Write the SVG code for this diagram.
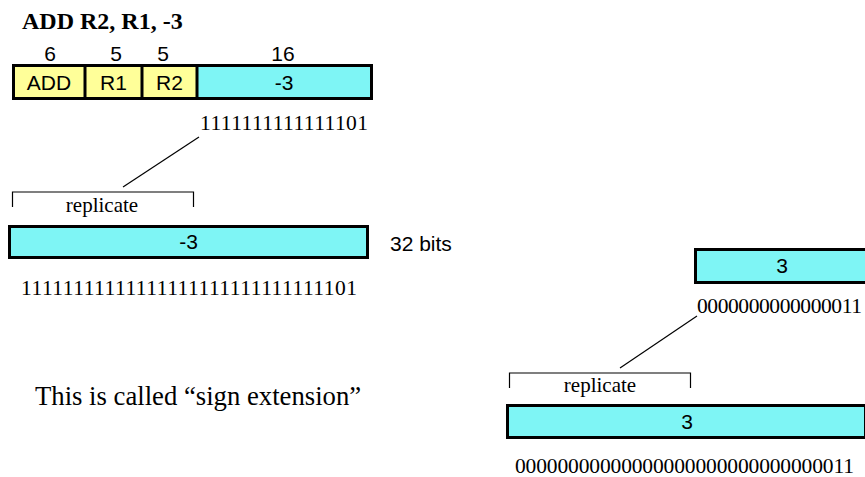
<svg xmlns="http://www.w3.org/2000/svg" width="865" height="477" viewBox="0 0 865 477">
  <style>
    .serif { font-family: "Liberation Serif", "Times New Roman", serif; fill: #000; }
    .sans { font-family: "Liberation Sans", Arial, sans-serif; fill: #000; font-size: 21px; }
    .bits { font-size: 21.5px; }
    .field { stroke: #000; stroke-width: 3; }
    .op { fill: #FFFF99; }
    .imm { fill: #7EF5F5; }
    .thin { stroke: #000; stroke-width: 1.2; fill: none; }
  </style>
  <rect width="865" height="477" fill="#fff"/>

  <!-- instruction title -->
  <text class="serif" x="22" y="29" font-size="24" font-weight="bold">ADD R2, R1, -3</text>

  <!-- field widths -->
  <g id="widths" class="sans" text-anchor="middle">
    <text x="50" y="61">6</text>
    <text x="116" y="61">5</text>
    <text x="163" y="61">5</text>
    <text x="283" y="61">16</text>
  </g>

  <!-- instruction word -->
  <g id="instr">
    <rect class="op" x="13.5" y="65.5" width="183.5" height="33"/>
    <rect class="imm" x="197" y="65.5" width="174.5" height="33"/>
    <rect class="field" x="13.5" y="65.5" width="358" height="33" fill="none"/>
    <line class="field" x1="85" y1="65.5" x2="85" y2="98.5"/>
    <line class="field" x1="142" y1="65.5" x2="142" y2="98.5"/>
    <line class="field" x1="197" y1="65.5" x2="197" y2="98.5"/>
    <g class="sans" text-anchor="middle">
      <text x="49" y="90">ADD</text>
      <text x="113.5" y="90">R1</text>
      <text x="169.5" y="90">R2</text>
      <text x="284" y="90">-3</text>
    </g>
  </g>

  <text id="imm16-neg" class="serif bits" x="200" y="130" textLength="168" lengthAdjust="spacing">1111111111111101</text>

  <!-- sign-extended negative immediate -->
  <g id="ext-neg">
    <rect class="field imm" x="9.5" y="226.5" width="358" height="31"/>
    <text class="sans" x="188.5" y="249" text-anchor="middle">-3</text>
  </g>
  <text id="bits-label" class="sans" x="390" y="251">32 bits</text>
  <text id="imm32-neg" class="serif bits" x="21" y="295" textLength="336" lengthAdjust="spacing">11111111111111111111111111111101</text>

  <!-- positive immediate -->
  <g id="imm-pos">
    <rect class="field imm" x="695.5" y="249.5" width="176" height="33"/>
    <text class="sans" x="782" y="273" text-anchor="middle">3</text>
  </g>
  <text id="imm16-pos" class="serif bits" x="697" y="313" textLength="165" lengthAdjust="spacing">0000000000000011</text>

  <g id="ext-pos">
    <rect class="field imm" x="507.5" y="405.5" width="358" height="32"/>
    <text class="sans" x="687" y="429" text-anchor="middle">3</text>
  </g>
  <text id="imm32-pos" class="serif bits" x="515" y="473" textLength="339" lengthAdjust="spacing">00000000000000000000000000000011</text>

  <text id="note" class="serif" x="35" y="405" font-size="26.7">This is called “sign extension”</text>

  <!-- replication brackets -->
  <g id="brackets">
    <path class="thin" d="M12.5,207 V192 H193.5 V207"/>
    <text class="serif" x="102" y="212" font-size="21" text-anchor="middle">replicate</text>
    <path class="thin" d="M509.5,388 V373 H690.5 V388"/>
    <text class="serif" x="600" y="392" font-size="21" text-anchor="middle">replicate</text>
  </g>

  <!-- connectors from the sign bit to the brackets -->
  <g id="connectors">
    <line class="thin" x1="199" y1="137" x2="123" y2="187"/>
    <line class="thin" x1="697" y1="316" x2="620" y2="368"/>
  </g>
</svg>
